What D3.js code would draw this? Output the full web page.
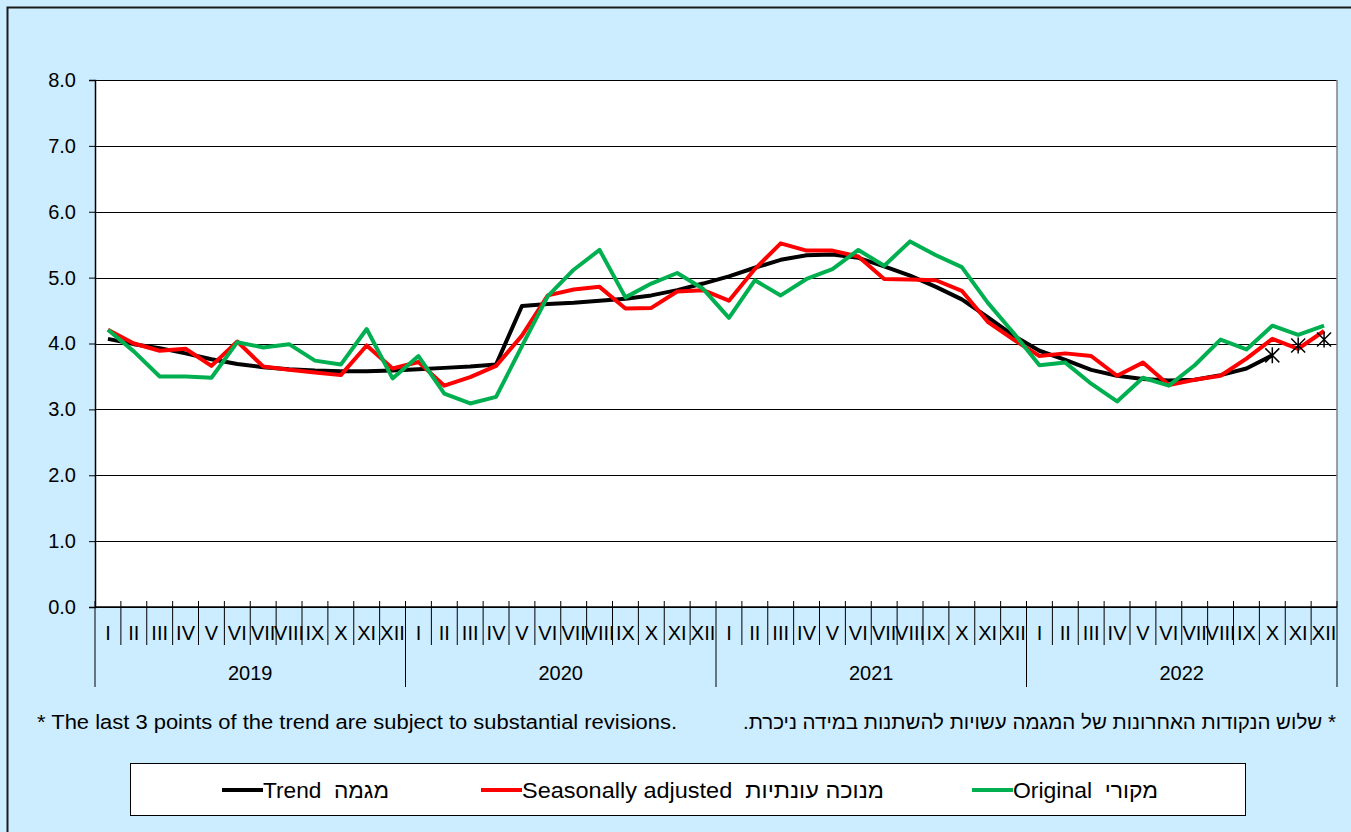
<!DOCTYPE html>
<html>
<head>
<meta charset="utf-8">
<script src="https://cdn.jsdelivr.net/npm/d3@7"></script>
<style>
  html, body { margin: 0; padding: 0; background: #CCECFF; }
  svg { display: block; font-family: "Liberation Sans", Arial, sans-serif; }
  text { white-space: pre; }
</style>
</head>
<body>
<svg id="chart" width="1351" height="832"></svg>
<script>
const years = ["2019", "2020", "2021", "2022"];
const months = ["I","II","III","IV","V","VI","VII","VIII","IX","X","XI","XII"];
const yTicks = [0, 1, 2, 3, 4, 5, 6, 7, 8];

const trend = [4.07,3.99,3.93,3.85,3.76,3.69,3.64,3.61,3.59,3.58,3.58,3.59,
               3.61,3.63,3.65,3.68,4.57,4.60,4.62,4.65,4.68,4.73,4.81,4.91,
               5.02,5.15,5.27,5.34,5.35,5.30,5.17,5.03,4.86,4.67,4.40,4.12,
               3.89,3.75,3.60,3.51,3.46,3.44,3.45,3.52,3.62,3.82,3.97,4.06];
const seasAdj = [4.21,4.00,3.89,3.92,3.66,4.03,3.65,3.60,3.56,3.52,3.97,3.62,
                 3.72,3.36,3.49,3.66,4.12,4.73,4.82,4.86,4.53,4.54,4.79,4.81,
                 4.65,5.13,5.52,5.41,5.41,5.32,4.98,4.97,4.96,4.80,4.33,4.06,
                 3.81,3.85,3.81,3.51,3.71,3.37,3.45,3.51,3.77,4.07,3.92,4.19];
const original = [4.21,3.88,3.50,3.50,3.48,4.02,3.94,3.99,3.74,3.68,4.22,3.47,
                  3.81,3.24,3.09,3.19,3.96,4.72,5.12,5.42,4.70,4.91,5.07,4.83,
                  4.39,4.96,4.73,4.98,5.13,5.42,5.18,5.55,5.34,5.16,4.62,4.16,
                  3.67,3.71,3.39,3.12,3.48,3.36,3.67,4.06,3.91,4.27,4.13,4.27];
const revisedCount = 3; // last 3 trend points marked with asterisks

const footEn = "* The last 3 points of the trend are subject to substantial revisions.";
const footHe = "* שלוש הנקודות האחרונות של המגמה עשויות להשתנות במידה ניכרת.";
const legendItems = [
  { en: "Trend", he: "מגמה", color: "#000000" },
  { en: "Seasonally adjusted", he: "מנוכה עונתיות", color: "#FF0000" },
  { en: "Original", he: "מקורי", color: "#00B050" }
];

const W = 1351, H = 832;
const plot = { left: 95, right: 1337, top: 80, bottom: 607 };
const svg = d3.select("#chart");

// background and outer frame
svg.append("rect").attr("width", W).attr("height", H).attr("fill", "#CCECFF");
svg.append("path").attr("d", `M7.5,${H} V7.5 H${W}`).attr("fill", "none")
   .attr("stroke", "#1a1a1a").attr("stroke-width", 2);

const keys = [];
years.forEach(yv => months.forEach(m => keys.push(yv + "-" + m)));

const x = d3.scaleBand().domain(keys).range([plot.left, plot.right]).padding(0);
const y = d3.scaleLinear().domain([0, 8]).range([plot.bottom, plot.top]);
const cx = i => x(keys[i]) + x.bandwidth() / 2;

// plot area
svg.append("rect").attr("x", plot.left).attr("y", plot.top)
   .attr("width", plot.right - plot.left).attr("height", plot.bottom - plot.top)
   .attr("fill", "#fff");

// gridlines
svg.append("g").attr("transform", `translate(${plot.left},0)`)
   .call(d3.axisLeft(y).tickValues(yTicks).tickSize(-(plot.right - plot.left)).tickFormat(""))
   .call(g => g.select(".domain").remove())
   .call(g => g.selectAll("line").attr("stroke", "#000").attr("stroke-width", 1)
                 .attr("shape-rendering", "crispEdges"));

// right border of plot
svg.append("line").attr("x1", plot.right).attr("x2", plot.right)
   .attr("y1", plot.top).attr("y2", plot.bottom)
   .attr("stroke", "#808080").attr("stroke-width", 1.5);

// y axis
svg.append("g").attr("transform", `translate(${plot.left},0)`)
   .call(d3.axisLeft(y).tickValues(yTicks).tickSize(6).tickPadding(13).tickFormat(d3.format(".1f")))
   .call(g => g.select(".domain").attr("stroke", "#000").attr("stroke-width", 1.5))
   .call(g => g.selectAll("line").attr("stroke", "#000"))
   .call(g => g.selectAll("text").attr("font-size", 20).attr("fill", "#000")
                 .attr("font-family", "Liberation Sans, Arial, sans-serif"));

// x axis line
svg.append("line").attr("x1", plot.left).attr("x2", plot.right)
   .attr("y1", plot.bottom).attr("y2", plot.bottom)
   .attr("stroke", "#000").attr("stroke-width", 1.5);

// month boundaries
const bounds = d3.range(keys.length + 1).map(k => plot.left + k * x.step());
svg.append("g").selectAll("line").data(bounds).join("line")
   .attr("x1", d => d).attr("x2", d => d)
   .attr("y1", plot.bottom - 6)
   .attr("y2", (d, k) => (k % 12 === 0) ? 687 : 645)
   .attr("stroke", "#000").attr("stroke-width", 1);

// month labels
svg.append("g").selectAll("text").data(keys).join("text")
   .attr("x", d => x(d) + x.bandwidth() / 2).attr("y", 640)
   .attr("text-anchor", "middle").attr("font-size", 20).attr("fill", "#000")
   .text(d => d.split("-")[1]);

// year labels
svg.append("g").selectAll("text").data(years).join("text")
   .attr("x", (d, i) => x(d + "-I") + 6 * x.step())
   .attr("y", 680).attr("text-anchor", "middle").attr("font-size", 20).attr("fill", "#000")
   .text(d => d);

// series lines
const line = d3.line().x((d, i) => cx(i)).y(d => y(d));
const trendShown = trend.slice(0, trend.length - revisedCount + 1);
svg.append("path").datum(trendShown).attr("d", line)
   .attr("fill", "none").attr("stroke", legendItems[0].color).attr("stroke-width", 4)
   .attr("stroke-linejoin", "round");
svg.append("path").datum(seasAdj).attr("d", line)
   .attr("fill", "none").attr("stroke", legendItems[1].color).attr("stroke-width", 4)
   .attr("stroke-linejoin", "round");
svg.append("path").datum(original).attr("d", line)
   .attr("fill", "none").attr("stroke", legendItems[2].color).attr("stroke-width", 4)
   .attr("stroke-linejoin", "round");

// asterisk markers on last trend points
const starIdx = d3.range(trend.length - revisedCount, trend.length);
const s = 7;
svg.append("g").selectAll("path").data(starIdx).join("path")
   .attr("transform", i => `translate(${cx(i)},${y(trend[i])})`)
   .attr("d", `M${-s},${-s}L${s},${s}M${-s},${s}L${s},${-s}M0,${-s - 1}L0,${s + 1}`)
   .attr("stroke", "#000").attr("stroke-width", 1.5).attr("fill", "none");

// footnotes
svg.append("text").attr("x", 37).attr("y", 729).attr("font-size", 20).attr("fill", "#000")
   .attr("textLength", 640).attr("lengthAdjust", "spacingAndGlyphs")
   .text(footEn);
svg.append("text").attr("x", 1336).attr("y", 729).attr("font-size", 19.5).attr("fill", "#000")
   .attr("direction", "rtl").attr("text-anchor", "start")
   .attr("textLength", 593).attr("lengthAdjust", "spacingAndGlyphs")
   .text(footHe);

// legend
svg.append("rect").attr("x", 130.5).attr("y", 763.5).attr("width", 1115).attr("height", 52)
   .attr("fill", "#fff").attr("stroke", "#000").attr("stroke-width", 1);
const legX = [222, 481, 972];
const legLen = [126, 362, 145];
const lg = svg.append("g").selectAll("g").data(legendItems).join("g")
   .attr("transform", (d, i) => `translate(${legX[i]},790)`);
lg.append("line").attr("x1", 0).attr("x2", 41).attr("y1", 0).attr("y2", 0)
   .attr("stroke", d => d.color).attr("stroke-width", 4);
lg.append("text").attr("x", 41).attr("y", 7.5).attr("font-size", 22.5).attr("fill", "#000")
   .attr("textLength", (d, i) => legLen[i]).attr("lengthAdjust", "spacingAndGlyphs")
   .text(d => d.en + "  " + d.he);
</script>
</body>
</html>
